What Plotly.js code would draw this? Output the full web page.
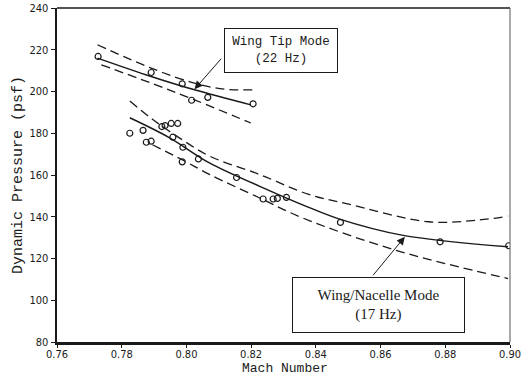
<!DOCTYPE html>
<html>
<head>
<meta charset="utf-8">
<script src="https://cdn.plot.ly/plotly-3.0.1.min.js"></script>
<style>html,body{margin:0;padding:0;background:#fff;}#chart{width:523px;height:376px;}</style>
</head>
<body>
<div id="chart"></div>
<script>
// Wing Tip Mode (22 Hz) test points
const tipMach = [0.7727, 0.7891, 0.7987, 0.8016, 0.8066, 0.8206];
const tipQ    = [216.8, 209.1, 203.7, 195.8, 197.2, 194.1];
// Wing Tip Mode fit and bounds
const tipFitMach = [0.7725, 0.7891, 0.8025, 0.8199];
const tipFitQ    = [216.0, 207.2, 200.8, 193.6];
const tipUpMach  = [0.7725, 0.7891, 0.8025, 0.8117, 0.8209];
const tipUpQ     = [222.4, 211.2, 204.0, 201.1, 200.8];
const tipLoMach  = [0.7737, 0.7891, 0.8025, 0.8199];
const tipLoQ     = [212.8, 204.0, 196.0, 184.9];

// Wing/Nacelle Mode (17 Hz) test points
const nacMach = [0.7825, 0.7866, 0.7876, 0.7891, 0.7924, 0.7934, 0.7953, 0.7973, 0.7958, 0.7989,
                 0.7987, 0.8037, 0.8155, 0.8237, 0.8268, 0.8281, 0.8309, 0.8476, 0.8784, 0.8996];
const nacQ    = [180.0, 181.4, 175.7, 176.2, 183.2, 183.7, 184.7, 184.7, 178.1, 173.3,
                 166.3, 167.7, 158.8, 148.5, 148.5, 148.8, 149.3, 137.3, 128.0, 126.1];
// Wing/Nacelle Mode fit and bounds
const nacFitMach = [0.7825, 0.7948, 0.8071, 0.8225, 0.8378, 0.8471, 0.8666, 0.8994];
const nacFitQ    = [187.4, 177.8, 165.8, 154.7, 144.5, 139.0, 131.2, 125.6];
const nacUpMach  = [0.7825, 0.7896, 0.7978, 0.8071, 0.8225, 0.8378, 0.8491, 0.8748, 0.8902, 0.8994];
const nacUpQ     = [195.4, 186.6, 177.8, 169.1, 160.3, 150.7, 146.4, 137.6, 138.4, 140.3];
const nacLoMach  = [0.7895, 0.7994, 0.8071, 0.8225, 0.8358, 0.8646, 0.8994];
const nacLoQ     = [174.5, 166.7, 160.3, 149.1, 139.5, 124.0, 110.4];

const xTicks = [0.76, 0.78, 0.80, 0.82, 0.84, 0.86, 0.88, 0.90];
const xTickText = ['0.76', '0.78', '0.80', '0.82', '0.84', '0.86', '0.88', '0.90'];
const yTicks = [80, 100, 120, 140, 160, 180, 200, 220, 240];

const ink = '#1a1a1a';
const dashStyle = '9px,5px';

function curve(x, y, dashed) {
  return {x: x, y: y, type: 'scatter', mode: 'lines', hoverinfo: 'skip',
          line: {color: ink, width: dashed ? 1.3 : 1.5, dash: dashed ? dashStyle : 'solid', shape: 'spline', smoothing: 1}};
}
function pts(x, y) {
  return {x: x, y: y, type: 'scatter', mode: 'markers', hoverinfo: 'skip',
          marker: {symbol: 'circle-open', size: 6, color: ink, line: {width: 1.2, color: ink}}};
}

const data = [
  curve(tipUpMach, tipUpQ, true),
  curve(tipFitMach, tipFitQ, false),
  curve(tipLoMach, tipLoQ, true),
  curve(nacUpMach, nacUpQ, true),
  curve(nacFitMach, nacFitQ, false),
  curve(nacLoMach, nacLoQ, true),
  pts(tipMach, tipQ),
  pts(nacMach, nacQ)
];

const tickFont = {family: 'DejaVu Sans Condensed, Liberation Sans, sans-serif', size: 11, color: ink};
const monoFont = {family: 'Liberation Mono, DejaVu Sans Mono, monospace', size: 13, color: ink};

const layout = {
  width: 523, height: 376,
  margin: {l: 57, r: 13, t: 8, b: 34},
  paper_bgcolor: '#fff', plot_bgcolor: '#fff',
  showlegend: false,
  xaxis: {
    range: [0.76, 0.90], tickvals: xTicks, ticktext: xTickText,
    ticks: 'outside', ticklen: 3, tickwidth: 1, tickcolor: ink,
    ticklabelstandoff: -3,
    showgrid: false, zeroline: false,
    showline: true, linecolor: ink, linewidth: 2.5,
    tickfont: tickFont
  },
  yaxis: {
    range: [80, 240], tickvals: yTicks,
    ticks: 'outside', ticklen: 4, tickwidth: 1, tickcolor: ink,
    showgrid: false, zeroline: false,
    showline: true, linecolor: ink, linewidth: 2.5,
    tickfont: tickFont,
    title: {text: 'Dynamic Pressure (psf)', font: {family: monoFont.family, size: 15, color: ink}, standoff: 3}
  },
  shapes: [
    {type: 'line', xref: 'paper', yref: 'paper', x0: 0, x1: 1, y0: 1, y1: 1, line: {color: ink, width: 1.5}},
    {type: 'line', xref: 'paper', yref: 'paper', x0: 1, x1: 1, y0: 0, y1: 1, line: {color: '#555', width: 1}}
  ],
  annotations: [
    {xref: 'paper', yref: 'paper', x: 0.503, y: -0.1018, xanchor: 'center', yanchor: 'bottom',
     text: 'Mach Number', showarrow: false, font: monoFont, borderpad: 0, yshift: -1},
    {xref: 'paper', yref: 'paper', x: 0.4945, y: 0.8728, xanchor: 'center', yanchor: 'middle',
     text: 'Wing Tip Mode<br>(22 Hz)', showarrow: false, width: 112, height: 43,
     bordercolor: ink, borderwidth: 1, borderpad: 0, bgcolor: '#fff',
     font: {family: 'Liberation Mono, DejaVu Sans Mono, monospace', size: 12.5, color: ink}},
    {xref: 'x', yref: 'y', x: 0.8025, y: 201.1, ax: 28, ay: -32, text: '', showarrow: true,
     arrowhead: 2, arrowsize: 1.6, arrowwidth: 1, arrowcolor: ink},
    {xref: 'paper', yref: 'paper', x: 0.7097, y: 0.1108, xanchor: 'center', yanchor: 'middle',
     text: 'Wing/Nacelle Mode<br>(17 Hz)', showarrow: false, width: 171, height: 54,
     bordercolor: ink, borderwidth: 1, borderpad: 0, bgcolor: '#fff',
     font: {family: 'Liberation Serif, Times New Roman, serif', size: 15, color: ink}},
    {xref: 'x', yref: 'y', x: 0.8675, y: 130.4, ax: -33, ay: 40, text: '', showarrow: true,
     arrowhead: 2, arrowsize: 1.6, arrowwidth: 1, arrowcolor: ink}
  ]
};

Plotly.newPlot('chart', data, layout, {staticPlot: true, displayModeBar: false});
</script>
</body>
</html>
